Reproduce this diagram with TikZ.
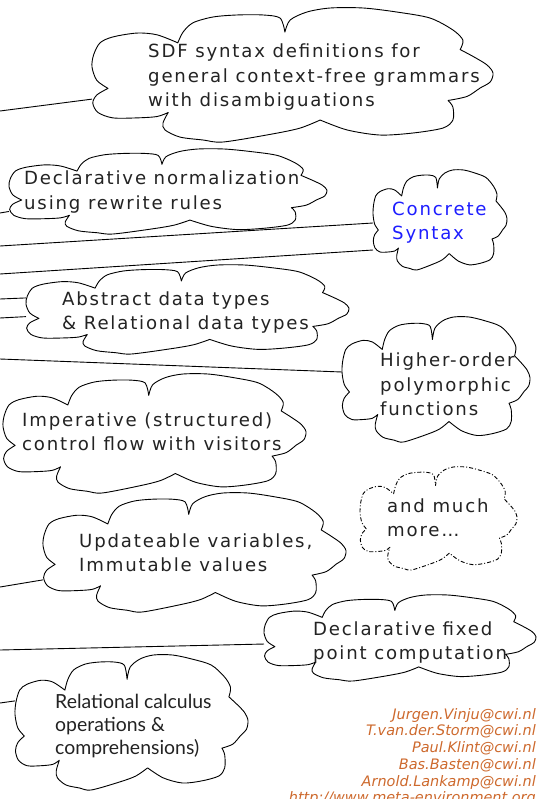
\documentclass[tikz,border=0pt]{standalone}
\usepackage{fontspec}
\setmainfont{DejaVu Sans}[LetterSpace=10]
\newfontfamily\latofont{Lato}
\newfontfamily\mailfont{DejaVu Sans}
\usetikzlibrary{calc}
\definecolor{txt}{RGB}{35,35,35}
\definecolor{csblue}{RGB}{30,30,255}
\definecolor{mailc}{RGB}{205,105,45}
% invisible box that names a cloud: name, left x, top y, width, height
\newcommand\cloudbox[5]{\node[inner sep=0pt, outer sep=0pt, minimum width=#4bp, minimum height=#5bp, anchor=north west] (#1) at (#2,#3) {};}
% the cloud outline, one template stretched to the box: name, width, height, extra style
\newcommand\cloudpath[4]{%
\begin{scope}[shift={(#1.north west)}, x=#2bp, y=-#3bp]
\path[cloudline,#4]
 plot[smooth] coordinates {(0.04,0.60) (0.012,0.54) (0.0,0.44) (0.004,0.35) (0.02,0.26) (0.052,0.216) (0.112,0.187) (0.162,0.20) (0.214,0.26)}
 -- plot[smooth] coordinates {(0.214,0.26) (0.227,0.18) (0.252,0.11) (0.302,0.067) (0.362,0.052) (0.426,0.052) (0.469,0.075) (0.481,0.18)}
 -- plot[smooth] coordinates {(0.481,0.18) (0.494,0.09) (0.536,0.03) (0.594,0.0) (0.676,0.0) (0.76,0.03) (0.843,0.075) (0.900,0.164) (0.925,0.24) (0.918,0.31)}
 -- plot[smooth] coordinates {(0.918,0.31) (0.953,0.366) (0.985,0.425) (1.0,0.485) (0.993,0.552) (0.968,0.597) (0.935,0.66) (0.888,0.69)}
 -- plot[smooth] coordinates {(0.888,0.69) (0.900,0.74) (0.900,0.836) (0.875,0.896) (0.80,0.933) (0.718,0.948) (0.636,0.91) (0.569,0.836)}
 -- plot[smooth] coordinates {(0.569,0.836) (0.519,0.896) (0.45,0.94) (0.327,1.0) (0.277,0.985) (0.219,0.963) (0.182,0.91) (0.177,0.858) (0.19,0.78)}
 -- plot[smooth] coordinates {(0.19,0.78) (0.162,0.81) (0.112,0.82) (0.052,0.82) (0.015,0.78) (0.002,0.71) (0.012,0.649) (0.04,0.60)}
 -- cycle;
\end{scope}}
\begin{document}
\begin{tikzpicture}[x=1bp,y=-1bp,
  cloudline/.style={draw=black, fill=white, line width=0.9bp, line join=round},
  lbl/.style={anchor=west, align=left, inner sep=0pt, font=\fontsize{18.2}{24.5}\selectfont, text=txt},
  wire/.style={draw=black, line width=0.9bp}]
\useasboundingbox (0,0) rectangle (540,799);
\clip (0,0) rectangle (540,799);
% cloud boxes
\cloudbox{sdfc}{92}{8}{401}{134}
\cloudbox{normc}{9}{149}{318}{85}
\cloudbox{csc}{373}{170}{134}{100}
\cloudbox{adtc}{26}{265}{323}{89}
\cloudbox{hoc}{342}{317}{188}{125}
\cloudbox{impc}{3}{374}{303}{119}
\cloudbox{morec}{360}{467}{157}{103}
\cloudbox{updc}{43}{493}{303}{119}
\cloudbox{fixc}{264}{595}{272}{86}
\cloudbox{relc}{15}{655}{233}{135}
% connectors from the left edge
\coordinate (e1) at (0,111);
\coordinate (e2) at (0,213);
\coordinate (e3) at (0,246);
\coordinate (e4) at (0,274);
\coordinate (e5) at (0,299);
\coordinate (e6) at (0,318);
\coordinate (e7) at (0,359);
\coordinate (e8) at (0,587);
\coordinate (e9) at (0,650);
\coordinate (e10) at (0,703);
\draw[wire] (e1) -- ($(sdfc.north west)!0.68!(sdfc.south west)$);
\draw[wire] (e2) -- ($(normc.north west)!0.735!(normc.south west)$);
\draw[wire] (e3) -- ($(csc.north west)!0.53!(csc.south west)$);
\draw[wire] (e4) -- ($(csc.north west)!0.80!(csc.south west)$);
\draw[wire] (e5) -- ($(adtc.north west)!0.37!(adtc.south west)$);
\draw[wire] (e6) -- ($(adtc.north west)!0.58!(adtc.south west)$);
\draw[wire] (e7) -- ($(hoc.north west)!0.44!(hoc.south west)$);
\draw[wire] (e8) -- ($(updc.north west)!0.73!(updc.south west)$);
\draw[wire] (e9) -- ($(fixc.north west)!0.57!(fixc.south west)$);
\draw[wire] (e10) -- ($(relc.north west)!0.34!(relc.south west)$);
% clouds
\cloudpath{sdfc}{401}{134}{}
\cloudpath{normc}{318}{85}{}
\cloudpath{csc}{134}{100}{}
\cloudpath{adtc}{323}{89}{}
\cloudpath{hoc}{188}{125}{}
\cloudpath{impc}{303}{119}{}
\cloudpath{morec}{157}{103}{dash pattern=on 4bp off 2bp on 1bp off 2bp}
\cloudpath{updc}{303}{119}{}
\cloudpath{fixc}{272}{86}{}
\cloudpath{relc}{233}{135}{}
% texts
\node[lbl] (sdf) at (148,77) {SDF syntax definitions for\\general context-free grammars\\with disambiguations};
\node[lbl] (norm) at (24,192) {Declarative normalization\\using rewrite rules};
\node[lbl, text=csblue] (cs) at (392,222.5) {Concrete\\Syntax};
\node[lbl] (adt) at (62,312.5) {Abstract data types\\\& Relational data types};
\node[lbl] (ho) at (380,384.5) {Higher-order\\polymorphic\\functions};
\node[lbl] (imp) at (22,432) {Imperative (structured)\\control flow with visitors};
\node[lbl] (more) at (387,518) {and much\\more\ldots};
\node[lbl] (upd) at (79,553) {Updateable variables,\\Immutable values};
\node[lbl] (fix) at (313,642.5) {Declarative fixed\\point computation};
\node[lbl, font=\latofont\fontsize{19.5}{23.5}\selectfont] (rel) at (55,726) {Relational calculus\\operations \&\\comprehensions)};
\node[anchor=north east, align=right, inner sep=0pt, text=mailc, font=\mailfont\itshape\fontsize{14.5}{16.8}\selectfont] (mails) at (536,708)
  {Jurgen.Vinju@cwi.nl\\T.van.der.Storm@cwi.nl\\Paul.Klint@cwi.nl\\Bas.Basten@cwi.nl\\Arnold.Lankamp@cwi.nl\\http://www.meta-environment.org};
\end{tikzpicture}
\end{document}
